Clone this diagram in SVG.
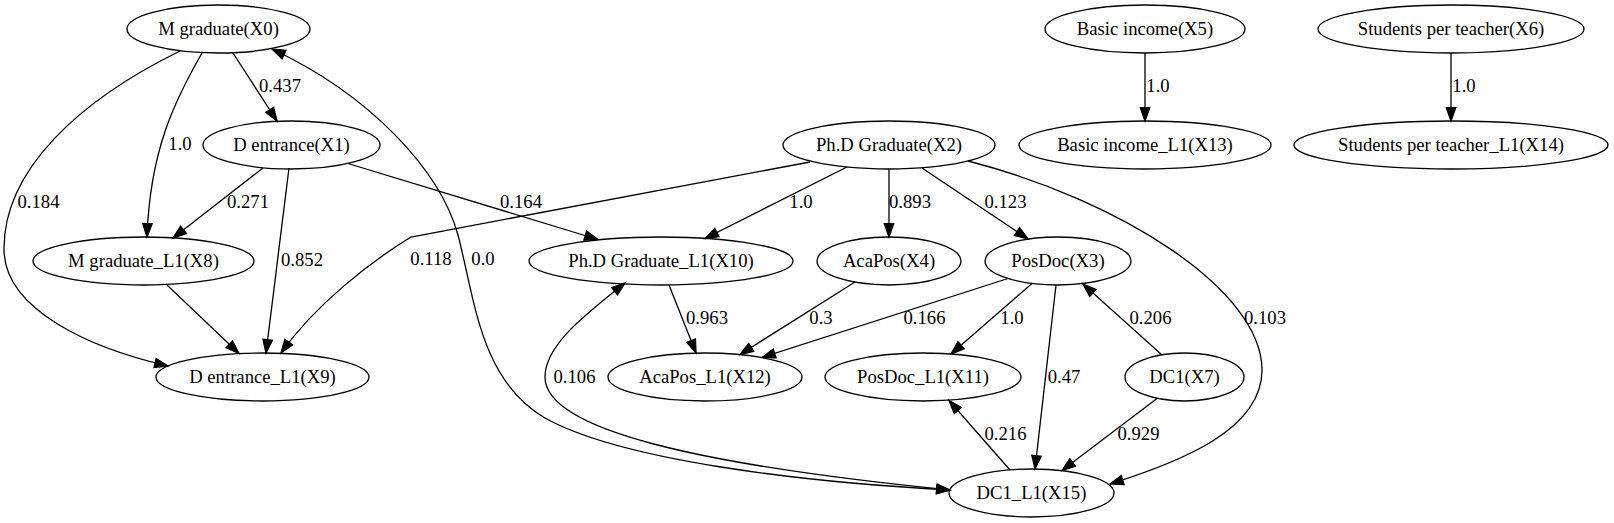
<svg xmlns="http://www.w3.org/2000/svg" width="1614" height="523" viewBox="0 0 1614 523">
<defs>
<style>
.n ellipse{fill:none;stroke:#000;stroke-width:1.3}
text{font-family:'Liberation Serif','DejaVu Serif',serif;font-size:18.67px;fill:#000;text-anchor:middle}
.e path{fill:none;stroke:#000;stroke-width:1.3;marker-end:url(#ah)}
.e path.b{marker-start:url(#ah)}
</style>
<marker id="ah" markerUnits="userSpaceOnUse" markerWidth="16" markerHeight="12" refX="13.3" refY="5" orient="auto-start-reverse" overflow="visible">
<path d="M0,0.3 L13.3,5 L0,9.7 z" fill="#000" stroke="#000" stroke-width="1.3"/>
</marker>
</defs>
<rect width="1614" height="523" fill="#fff"/>
<g id="edges" class="e">
<path d="M233,53 L277,121"/>
<path d="M202,53 C175,100 150,150 147,237"/>
<path d="M180,51 C80,100 3,170 4,250 C5,310 90,348 168,366"/>
<path d="M263,168 L173,238"/>
<path d="M289,168 L266,353"/>
<path d="M348,163.5 L598,239.5"/>
<path d="M167,285 L239,353.5"/>
<path d="M810,162 L411,237 C370,262 315,305 281,353"/>
<path d="M847,167 L705,238.5"/>
<path d="M889,169 L889,237"/>
<path d="M922,168 L1028,239"/>
<path d="M968,161 C1120,200 1262,290 1262,370 C1262,430 1180,462 1110,484"/>
<path d="M669,285 L696,353"/>
<path d="M855,282 L740,354.5"/>
<path d="M1008,278.5 L762,357.5"/>
<path d="M1032,283.5 L951,354"/>
<path d="M1056,285 L1035,469"/>
<path d="M1162,355 L1083,284"/>
<path d="M1157,398.5 L1062,470.5"/>
<path d="M1010,470 L949,400.5"/>
<path d="M1145,53 L1145,121"/>
<path d="M1451,53 L1451,121"/>
<path class="b" d="M272,49 C370,95 440,170 458,235 C475,300 480,380 545,418 C620,460 800,482 950,490"/>
<path class="b" d="M625,283 C585,315 545,345 545,377 C545,430 700,465 950,490"/>
</g>
<g id="edge-labels" font-family="'Liberation Serif','DejaVu Serif',serif">
<text x="280" y="92">0.437</text>
<text x="180" y="150">1.0</text>
<text x="38.5" y="208">0.184</text>
<text x="248" y="208">0.271</text>
<text x="302" y="266">0.852</text>
<text x="521" y="208">0.164</text>
<text x="431" y="265">0.118</text>
<text x="483" y="265">0.0</text>
<text x="801" y="208">1.0</text>
<text x="910" y="208">0.893</text>
<text x="1005.5" y="208">0.123</text>
<text x="1265" y="324">0.103</text>
<text x="821" y="324">0.3</text>
<text x="924.5" y="324">0.166</text>
<text x="1012" y="324">1.0</text>
<text x="1150.5" y="324">0.206</text>
<text x="707" y="324">0.963</text>
<text x="574.5" y="383">0.106</text>
<text x="1064" y="383">0.47</text>
<text x="1005.5" y="440">0.216</text>
<text x="1138.5" y="440">0.929</text>
<text x="1158" y="92">1.0</text>
<text x="1464" y="92">1.0</text>
</g>
<g id="X0" class="n"><ellipse cx="218.5" cy="29" rx="91.5" ry="24"/><text x="218.5" y="35">M graduate(X0)</text></g>
<g id="X1" class="n"><ellipse cx="291.5" cy="145" rx="88.5" ry="24"/><text x="291.5" y="151">D entrance(X1)</text></g>
<g id="X2" class="n"><ellipse cx="889" cy="145" rx="106" ry="24"/><text x="889" y="151">Ph.D Graduate(X2)</text></g>
<g id="X3" class="n"><ellipse cx="1058" cy="261" rx="73" ry="24"/><text x="1058" y="267">PosDoc(X3)</text></g>
<g id="X4" class="n"><ellipse cx="889" cy="261" rx="72" ry="24"/><text x="889" y="267">AcaPos(X4)</text></g>
<g id="X5" class="n"><ellipse cx="1145" cy="29" rx="100" ry="24"/><text x="1145" y="35">Basic income(X5)</text></g>
<g id="X6" class="n"><ellipse cx="1451" cy="29" rx="133" ry="24"/><text x="1451" y="35">Students per teacher(X6)</text></g>
<g id="X7" class="n"><ellipse cx="1184.5" cy="377" rx="59.5" ry="24"/><text x="1184.5" y="383">DC1(X7)</text></g>
<g id="X8" class="n"><ellipse cx="143.5" cy="261" rx="110.5" ry="24"/><text x="143.5" y="267">M graduate_L1(X8)</text></g>
<g id="X9" class="n"><ellipse cx="262.5" cy="377" rx="106.5" ry="24"/><text x="262.5" y="383">D entrance_L1(X9)</text></g>
<g id="X10" class="n"><ellipse cx="661" cy="261" rx="132" ry="24"/><text x="661" y="267">Ph.D Graduate_L1(X10)</text></g>
<g id="X11" class="n"><ellipse cx="923" cy="377" rx="98" ry="24"/><text x="923" y="383">PosDoc_L1(X11)</text></g>
<g id="X12" class="n"><ellipse cx="705" cy="377" rx="97" ry="24"/><text x="705" y="383">AcaPos_L1(X12)</text></g>
<g id="X13" class="n"><ellipse cx="1145" cy="145" rx="126" ry="24"/><text x="1145" y="151">Basic income_L1(X13)</text></g>
<g id="X14" class="n"><ellipse cx="1451" cy="145" rx="157" ry="24"/><text x="1451" y="151">Students per teacher_L1(X14)</text></g>
<g id="X15" class="n"><ellipse cx="1031.5" cy="493" rx="82.5" ry="24"/><text x="1031.5" y="499">DC1_L1(X15)</text></g>
</svg>
